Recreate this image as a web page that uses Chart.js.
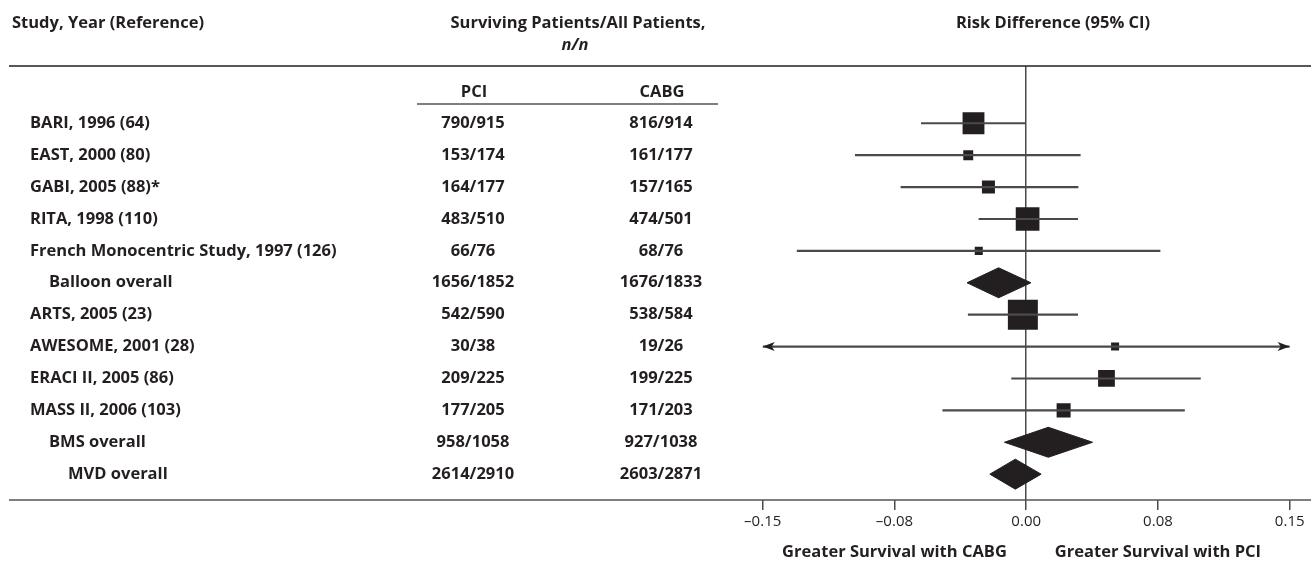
<!DOCTYPE html>
<html>
<head>
<meta charset="utf-8">
<script src="https://cdn.jsdelivr.net/npm/chart.js@4/dist/chart.umd.min.js"></script>
<style>
html,body{margin:0;padding:0;background:#fff;}
#wrap{width:1311px;height:563px;position:relative;}
</style>
</head>
<body>
<div id="wrap"><canvas id="forest"></canvas></div>
<script>
// rows, top to bottom
const studies = ['BARI, 1996 (64)','EAST, 2000 (80)','GABI, 2005 (88)*','RITA, 1998 (110)',
  'French Monocentric Study, 1997 (126)','Balloon overall','ARTS, 2005 (23)','AWESOME, 2001 (28)',
  'ERACI II, 2005 (86)','MASS II, 2006 (103)','BMS overall','MVD overall'];
const levels = [0,0,0,0,0,1,0,0,0,0,1,2];
const pciCounts = ['790/915','153/174','164/177','483/510','66/76','1656/1852','542/590','30/38','209/225','177/205','958/1058','2614/2910'];
const cabgCounts = ['816/914','161/177','157/165','474/501','68/76','1676/1833','538/584','19/26','199/225','171/203','927/1038','2603/2871'];

// risk difference and 95% CI
const riskDiff = [-0.030,-0.033,-0.0215,0.0008,-0.027,-0.0157,-0.0019,0.0506,0.0457,0.0213,0.0126,-0.0062];
const ciLow  = [-0.0597,-0.0973,-0.0713,-0.0269,-0.1304,-0.0337,-0.0330,-0.15,-0.0083,-0.0475,-0.0124,-0.0207];
const ciHigh = [0.0,0.0308,0.0295,0.0293,0.0762,0.0027,0.0293,0.15,0.0992,0.0901,0.0378,0.0085];
const ciOffScale = [false,false,false,false,false,false,false,true,false,false,false,false];
// study weight (%), null = pooled estimate
const weights = [17,3.5,6,20,2.3,null,32,2.3,10,7,null,null];

const tickValues = [-0.15,-0.075,0,0.075,0.15];
const tickLabels = ['\u20130.15','\u20130.08','0.00','0.08','0.15'];

const INK = '#231f20';
const FONT = '"Open Sans", "DejaVu Sans", sans-serif';
const BOLD = 'bold 16.5px ' + FONT;

const studyRows = studies.map((s,i)=>i).filter(i=>weights[i]!==null);
const pooledRows = studies.map((s,i)=>i).filter(i=>weights[i]===null);

let datasets = [];

// confidence interval whiskers as thin floating bars
datasets.push({
  type:'bar',
  indexAxis:'y',
  data: studyRows.map(i=>({y:i, x:[ciLow[i], ciHigh[i]]})),
  backgroundColor:'#4a4a4a',
  barThickness:1.5,
  borderWidth:0
});

// weighted squares
datasets.push({
  type:'scatter',
  data: studyRows.map(i=>({x:riskDiff[i], y:i})),
  pointStyle:'rect',
  pointRadius: studyRows.map(i=>5.3*Math.sqrt(weights[i])/Math.SQRT2),
  backgroundColor:INK,
  borderWidth:0
});

// pooled diamonds
pooledRows.forEach(i=>{
  const h = 0.47;
  datasets.push({
    type:'line',
    data:[{x:ciLow[i],y:i},{x:riskDiff[i],y:i-h},{x:ciHigh[i],y:i},{x:riskDiff[i],y:i+h},{x:ciLow[i],y:i}],
    borderColor:INK,
    borderWidth:1,
    backgroundColor:INK,
    fill:'shape',
    pointRadius:0,
    tension:0
  });
});

const tablePlugin = {
  id:'tablePlugin',
  afterDraw(chart){
    const ctx = chart.ctx;
    const xs = chart.scales.x, ys = chart.scales.y;
    const W = chart.width;
    ctx.save();
    ctx.fillStyle = INK;
    ctx.strokeStyle = INK;
    ctx.textBaseline = 'middle';
    ctx.font = BOLD;

    // header
    ctx.textAlign = 'left';
    ctx.fillText('Study, Year (Reference)', 12, 23);
    ctx.textAlign = 'center';
    ctx.fillText('Surviving Patients/All Patients,', 578, 23);
    ctx.font = 'italic ' + BOLD;
    ctx.fillText('n/n', 575, 45);
    ctx.font = BOLD;
    ctx.fillText('Risk Difference (95% CI)', 1053, 23);

    ctx.lineWidth = 1.5;
    ctx.beginPath();
    ctx.moveTo(9, 66); ctx.lineTo(W, 66);
    ctx.stroke();

    ctx.fillText('PCI', 474, 92);
    ctx.fillText('CABG', 662, 92);
    ctx.strokeStyle = '#555';
    ctx.beginPath();
    ctx.moveTo(417, 104); ctx.lineTo(718, 104);
    ctx.stroke();

    // rows
    studies.forEach((s,i)=>{
      const y = ys.getPixelForValue(i);
      ctx.textAlign = 'left';
      ctx.fillText(s, 30 + 19*levels[i], y);
      ctx.textAlign = 'center';
      ctx.fillText(pciCounts[i], 473, y);
      ctx.fillText(cabgCounts[i], 661, y);
    });

    // bottom rule (axis line across the whole figure)
    ctx.strokeStyle = '#555';
    ctx.lineWidth = 1.5;
    ctx.beginPath();
    ctx.moveTo(9, chart.chartArea.bottom); ctx.lineTo(W, chart.chartArea.bottom);
    ctx.stroke();

    // arrowheads for intervals running off the scale
    ctx.fillStyle = INK;
    studies.forEach((s,i)=>{
      if(!ciOffScale[i]) return;
      const y = ys.getPixelForValue(i);
      const xl = xs.getPixelForValue(ciLow[i]);
      const xr = xs.getPixelForValue(ciHigh[i]);
      ctx.beginPath();
      ctx.moveTo(xl, y); ctx.lineTo(xl+12, y-4.5); ctx.lineTo(xl+9, y); ctx.lineTo(xl+12, y+4.5); ctx.closePath();
      ctx.fill();
      ctx.beginPath();
      ctx.moveTo(xr, y); ctx.lineTo(xr-12, y-4.5); ctx.lineTo(xr-9, y); ctx.lineTo(xr-12, y+4.5); ctx.closePath();
      ctx.fill();
    });

    // direction labels
    ctx.fillStyle = INK;
    ctx.textAlign = 'center';
    ctx.font = BOLD;
    ctx.fillText('Greater Survival with CABG', xs.getPixelForValue(-0.075), 552);
    ctx.fillText('Greater Survival with PCI', xs.getPixelForValue(0.075), 552);
    ctx.restore();
  }
};

new Chart(document.getElementById('forest'),{
  type:'scatter',
  data:{datasets:datasets},
  options:{
    responsive:true,
    maintainAspectRatio:false,
    animation:false,
    events:[],
    layout:{
      padding:{left:762.7, right:21.3, top:66, bottom:33}
    },
    plugins:{
      legend:{display:false},
      tooltip:{enabled:false}
    },
    scales:{
      x:{
        type:'linear',
        min:-0.15,
        max:0.15,
        offset:false,
        afterBuildTicks(scale){
          scale.ticks = tickValues.map(v=>({value:v}));
        },
        afterFit(scale){
          scale.height = 30;
        },
        border:{display:false},
        grid:{
          drawOnChartArea:true,
          offset:false,
          color:(c)=> (c.tick && c.tick.value===0) ? '#4a4a4a' : 'rgba(0,0,0,0)',
          tickColor:'#4a4a4a',
          tickLength:10,
          lineWidth:1.5
        },
        ticks:{
          color:INK,
          font:{family:FONT, size:15},
          padding:3,
          maxRotation:0,
          callback:(v,idx)=>tickLabels[idx]
        }
      },
      y:{
        type:'linear',
        display:false,
        reverse:true,
        offset:false,
        min:-1.796,
        max:11.81
      }
    }
  },
  plugins:[tablePlugin]
});
</script>
</body>
</html>
